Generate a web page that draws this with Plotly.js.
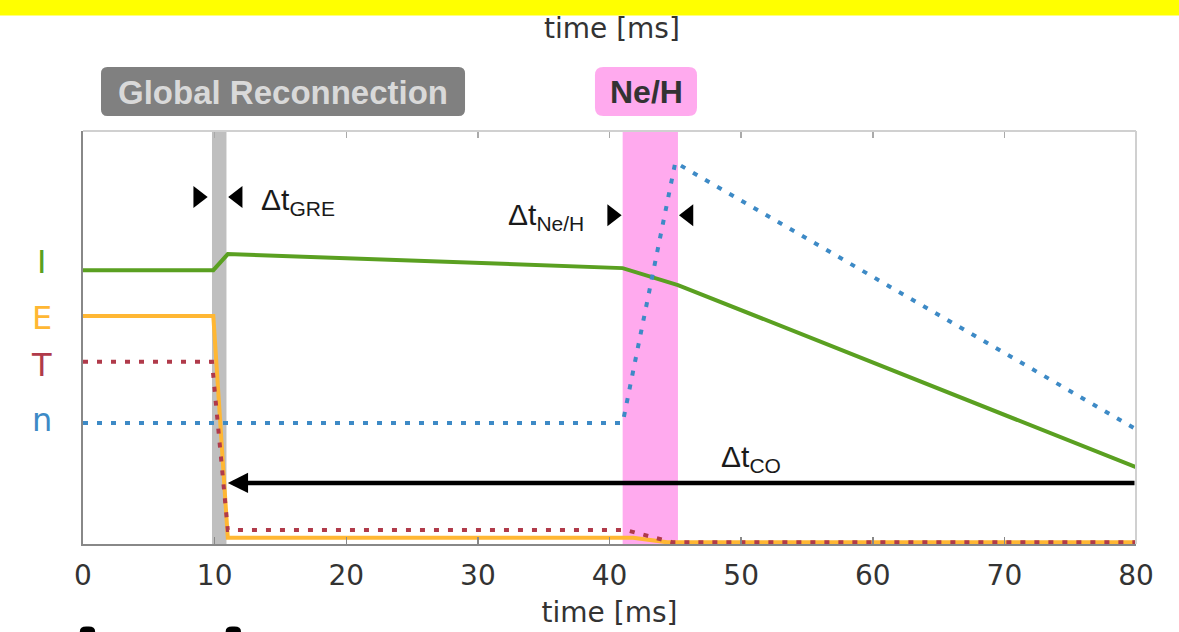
<!DOCTYPE html>
<html>
<head>
<meta charset="utf-8">
<script src="https://cdn.plot.ly/plotly-3.0.1.min.js"></script>
<style>html,body{margin:0;padding:0;background:#fff;}#chart{width:1179px;height:632px;}</style>
</head>
<body>
<div id="chart"></div>
<script>
// ---- data (time in ms, signal levels in arbitrary units 0..100) ----
const tI = [0, 9.9, 11, 41, 45.2, 80];
const vI = [66.3, 66.3, 70.2, 66.8, 62.7, 18.6];
const tE = [0, 9.9, 11, 41.8, 44.4, 80];
const vE = [55.2, 55.2, 1.5, 1.5, 0.4, 0.4];
const tT = [0, 9.8, 11, 41.2, 44.8, 80];
const vT = [44.1, 44.1, 3.4, 3.4, 0.4, 0.4];
const tN = [0, 41, 45, 80];
const vN = [29.3, 29.3, 92.4, 27.8];
const xTicks = [0, 10, 20, 30, 40, 50, 60, 70, 80];
const gre = [9.8, 10.9];          // global reconnection window
const neh = [41, 45.2];           // Ne/H window
const greMarks = [8.75, 11.75];   // Δt_GRE arrow marks
const nehMarks = [40.2, 46.0];    // Δt_Ne/H arrow marks
const coArrow = {from: 80, to: 11, level: 14.8};
const seriesLabels = ['I', 'E', 'T', 'n'];

const cGreen = '#5aa021', cOrange = '#ffb733', cRed = '#b03a4a', cBlue = '#3d8ac6';

const traces = [
  {x: tI, y: vI, mode: 'lines', line: {color: cGreen, width: 4}},
  {x: tE, y: vE, mode: 'lines', line: {color: cOrange, width: 4}},
  {x: tT, y: vT, mode: 'lines', line: {color: cRed, width: 4, dash: '5px,9px'}},
  {x: tN, y: vN, mode: 'lines', line: {color: cBlue, width: 4, dash: '5px,9px'}},
  {x: [greMarks[0], nehMarks[0]], y: [84, 79.6], mode: 'markers',
   marker: {symbol: 'triangle-right', size: 19, color: '#000'}},
  {x: [greMarks[1], nehMarks[1]], y: [84, 79.6], mode: 'markers',
   marker: {symbol: 'triangle-left', size: 19, color: '#000'}},
  {x: [0], y: [0], xaxis: 'x2', mode: 'markers', marker: {opacity: 0}, hoverinfo: 'skip'}
].map(t => Object.assign({showlegend: false, hoverinfo: 'skip'}, t));

const txtFont = {family: 'Liberation Sans, Arial, sans-serif', size: 30, color: '#1a1a1a'};
const labelColors = [cGreen, cOrange, cRed, cBlue];
const labelY = [0.683, 0.547, 0.433, 0.300];

const annotations = [
  {xref: 'x', yref: 'y', x: 13.4, y: 83.0, xanchor: 'left', yanchor: 'middle',
   text: 'Δt<sub>GRE</sub>', showarrow: false, font: txtFont},
  {xref: 'x', yref: 'y', x: 38.2, y: 79.2, xanchor: 'right', yanchor: 'middle',
   text: 'Δt<sub>Ne/H</sub>', showarrow: false, font: txtFont},
  {xref: 'x', yref: 'y', x: 48.3, y: 20.8, xanchor: 'left', yanchor: 'middle',
   text: 'Δt<sub>CO</sub>', showarrow: false, font: txtFont},
  {xref: 'x', yref: 'y', x: coArrow.to, y: coArrow.level, ax: coArrow.from, ay: coArrow.level,
   axref: 'x', ayref: 'y', showarrow: true, arrowhead: 2, arrowsize: 0.9, arrowwidth: 4.5,
   arrowcolor: '#000', text: ''},
  {xref: 'x', yref: 'paper', x: 15.2, y: 1.094, xanchor: 'center', yanchor: 'middle',
   text: '<b>Global Reconnection</b>', showarrow: false,
   font: {family: 'Liberation Sans, Arial, sans-serif', size: 33, color: '#d9d9d9'}},
  {xref: 'x', yref: 'paper', x: 42.8, y: 1.094, xanchor: 'center', yanchor: 'middle',
   text: '<b>Ne/H</b>', showarrow: false,
   font: {family: 'Liberation Sans, Arial, sans-serif', size: 32, color: '#333'}},
  {xref: 'paper', yref: 'paper', x: 0.502, y: 1.248, xanchor: 'center', yanchor: 'middle',
   text: 'time [ms]', showarrow: false,
   font: {family: 'DejaVu Sans, sans-serif', size: 28, color: '#333'}},
  // yellow strip on top (drawn after the top text so it covers it)
  {xref: 'paper', yref: 'paper', x: 0.4814, y: 1.299, xanchor: 'center', yanchor: 'middle',
   text: ' ', showarrow: false, width: 1181, height: 15, bgcolor: '#ffff00', borderpad: 0}
];
seriesLabels.forEach((s, i) => annotations.push({
  xref: 'paper', yref: 'paper', x: -0.039, y: labelY[i], xanchor: 'center', yanchor: 'middle',
  text: s, showarrow: false,
  font: {family: 'DejaVu Sans, sans-serif', size: 32, color: labelColors[i]}
}));

function rrect(x0, x1, y0, y1, rx, ry) {
  return `M${x0 + rx},${y0} L${x1 - rx},${y0} Q${x1},${y0} ${x1},${y0 + ry} L${x1},${y1 - ry} Q${x1},${y1} ${x1 - rx},${y1} L${x0 + rx},${y1} Q${x0},${y1} ${x0},${y1 - ry} L${x0},${y0 + ry} Q${x0},${y0} ${x0 + rx},${y0} Z`;
}

const shapes = [
  {type: 'rect', xref: 'x', yref: 'paper', x0: gre[0], x1: gre[1], y0: 0, y1: 1,
   fillcolor: '#bfbfbf', line: {width: 0}, layer: 'below'},
  {type: 'rect', xref: 'x', yref: 'paper', x0: neh[0], x1: neh[1], y0: 0, y1: 1,
   fillcolor: '#ffaaee', line: {width: 0}, layer: 'below'},
  {type: 'path', xref: 'paper', yref: 'paper', path: rrect(0.0171, 0.3628, 1.0363, 1.155, 0.006, 0.016),
   fillcolor: '#808080', line: {width: 0}},
  {type: 'path', xref: 'paper', yref: 'paper', path: rrect(0.4862, 0.5831, 1.0363, 1.155, 0.008, 0.02),
   fillcolor: '#ffaaee', line: {width: 0}},
  {type: 'line', xref: 'paper', yref: 'paper', x0: 0, x1: 1, y0: 1, y1: 1,
   line: {color: '#d0d0d0', width: 2}},
  {type: 'line', xref: 'paper', yref: 'paper', x0: 1, x1: 1, y0: 0, y1: 1,
   line: {color: '#d0d0d0', width: 2}},
  {type: 'path', xref: 'paper', yref: 'paper',
   path: rrect(-0.003, 0.0115, -0.3, -0.2, 0.006, 0.012), fillcolor: '#000', line: {width: 0}},
  {type: 'path', xref: 'paper', yref: 'paper',
   path: rrect(0.1355, 0.150, -0.3, -0.2, 0.006, 0.012), fillcolor: '#000', line: {width: 0}}
];

const layout = {
  width: 1179, height: 632,
  margin: {l: 83, r: 43, t: 131, b: 88},
  paper_bgcolor: '#fff', plot_bgcolor: '#fff',
  showlegend: false,
  xaxis: {range: [0, 80], tickvals: xTicks, ticktext: xTicks.map(String),
    ticks: 'inside', ticklen: 7, tickwidth: 1.5, tickcolor: '#888',
    ticklabelstandoff: 5,
    showline: true, linecolor: '#888', linewidth: 2, showgrid: false, zeroline: false,
    tickfont: {family: 'DejaVu Sans, sans-serif', size: 28, color: '#333'},
    title: {text: 'time [ms]', standoff: 12,
      font: {family: 'DejaVu Sans, sans-serif', size: 28, color: '#333'}}},
  xaxis2: {range: [0, 80], overlaying: 'x', side: 'top', tickvals: xTicks,
    ticks: 'inside', ticklen: 7, tickwidth: 1.5, tickcolor: '#aaa',
    showticklabels: false, showline: false, showgrid: false, zeroline: false},
  yaxis: {range: [0, 100], showline: true, linecolor: '#888', linewidth: 2,
    ticks: '', showticklabels: false, showgrid: false, zeroline: false},
  annotations: annotations,
  shapes: shapes
};

Plotly.newPlot('chart', traces, layout, {displayModeBar: false, staticPlot: true});
</script>
</body>
</html>
